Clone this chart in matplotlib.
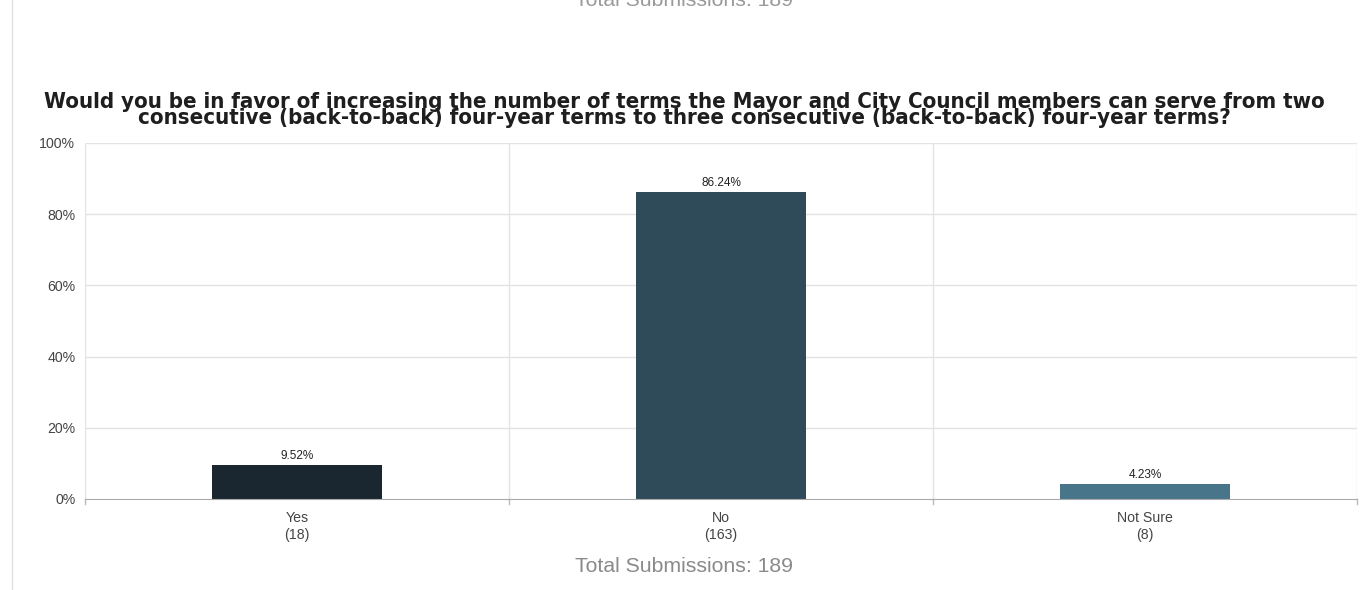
import matplotlib
matplotlib.use("Agg")
import matplotlib.pyplot as plt
import numpy as np

# survey results
categories = ["Yes", "No", "Not Sure"]
counts = [18, 163, 8]
percents = [9.52, 86.24, 4.23]
colors = ["#1b2730", "#2f4b59", "#49758a"]
y_ticks = [0, 20, 40, 60, 80, 100]
total = 189

title = ("Would you be in favor of increasing the number of terms the Mayor and City Council members can serve from two\n"
         "consecutive (back-to-back) four-year terms to three consecutive (back-to-back) four-year terms?")

plt.rcParams['font.family'] = ['Liberation Sans', 'DejaVu Sans']

fig = plt.figure(figsize=(13.68, 5.9), dpi=100)
ax = fig.add_axes([85 / 1368, 1 - 499 / 590, (1357 - 85) / 1368, (499 - 143) / 590])

x = np.arange(len(categories))
ax.bar(x, percents, width=0.4, color=colors, zorder=3)

for xi, p in zip(x, percents):
    ax.text(xi, p + 0.8, f"{p:.2f}%", ha="center", va="bottom", fontsize=8.5, color="#222222")

ax.set_xlim(-0.5, len(categories) - 0.5)
ax.set_ylim(0, 100)
ax.set_yticks(y_ticks)
ax.set_yticklabels([f"{t}%" for t in y_ticks])
ax.set_xticks(x)
ax.set_xticklabels([f"{c}\n({n})" for c, n in zip(categories, counts)])
ax.tick_params(axis="both", length=0, labelsize=10.2, colors="#444444")
ax.tick_params(axis="x", pad=9)
ax.tick_params(axis="y", pad=7)

# grid
for t in y_ticks[1:]:
    ax.axhline(t, color="#e3e3e3", lw=1, zorder=1)
for b in np.arange(-0.5, len(categories), 1.0):
    ax.axvline(b, color="#e3e3e3", lw=1, zorder=1)
    ax.plot([b, b], [0, -1.4], color="#bbbbbb", lw=1, clip_on=False)

for s in ["top", "right", "left"]:
    ax.spines[s].set_visible(False)
ax.spines["bottom"].set_color("#aaaaaa")
ax.spines["bottom"].set_zorder(4)

fig.text(0.5, 1 - 110 / 590, title, ha="center", va="center", fontsize=15.9,
         fontweight="bold", color="#1e1e1e", family=["DejaVu Sans"], linespacing=0.8,
         stretch="condensed")

fig.text(0.5, 1 - 567 / 590, f"Total Submissions: {total}", ha="center", va="center",
         fontsize=15.3, color="#8a8a8a")
fig.text(0.5, 1 - 1 / 590, f"Total Submissions: {total}", ha="center", va="center",
         fontsize=15.3, color="#9a9a9a")

# page border line on the left
fig.add_artist(plt.Line2D([12 / 1368, 12 / 1368], [0, 1], color="#e0e0e0", lw=1))

fig.savefig("out.png", dpi=100)
